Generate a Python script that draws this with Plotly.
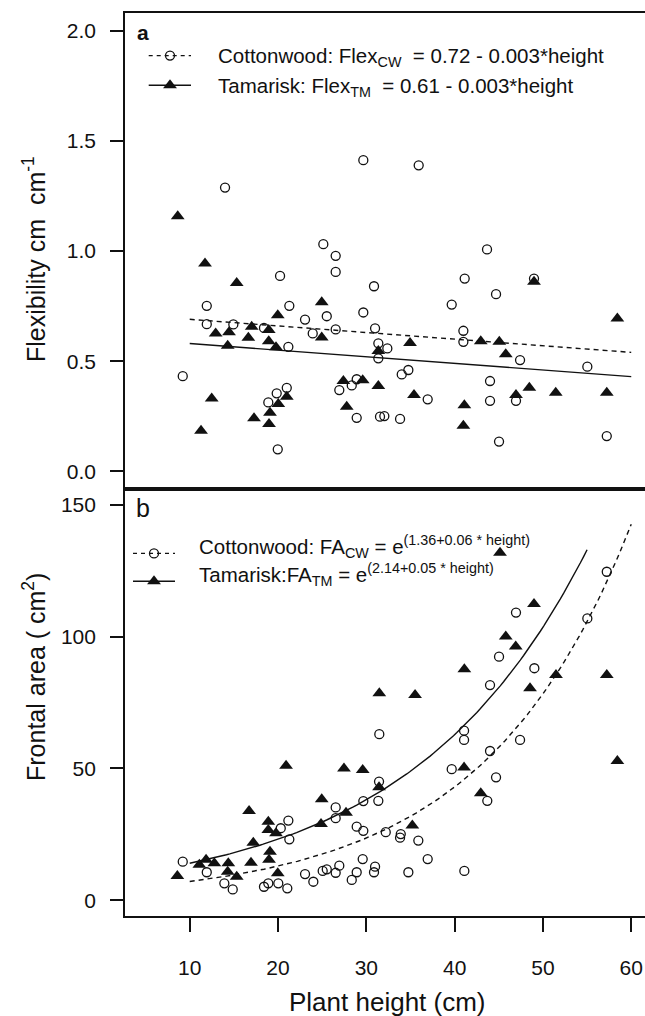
import numpy as np
import plotly.graph_objects as go

# ---------------- data ----------------
# Panel a: stem flexibility vs plant height
cw_flex_height = [29.66, 14.0, 35.93, 25.13, 26.53, 26.53, 20.23, 30.87, 43.67, 41.14,
                  48.99, 44.69, 11.93, 21.28, 25.52, 23.06, 29.66, 11.93, 14.94, 18.41,
                  23.93, 26.53, 30.99, 21.17, 31.36, 31.36, 32.38, 9.21, 26.94, 28.35,
                  28.91, 20.99, 19.85, 18.90, 28.91, 19.97, 31.55, 39.67, 40.99, 40.99,
                  47.41, 55.03, 34.76, 34.01, 44.01, 36.95, 44.01, 46.95, 32.04, 33.82,
                  45.03, 57.23]
cw_flex = [1.412, 1.288, 1.389, 1.031, 0.978, 0.905, 0.887, 0.840, 1.007, 0.875,
           0.875, 0.804, 0.751, 0.751, 0.704, 0.689, 0.721, 0.668, 0.667, 0.651,
           0.626, 0.644, 0.649, 0.565, 0.581, 0.513, 0.558, 0.432, 0.369, 0.390,
           0.418, 0.379, 0.354, 0.313, 0.243, 0.100, 0.248, 0.757, 0.638, 0.588,
           0.505, 0.475, 0.460, 0.440, 0.410, 0.327, 0.320, 0.320, 0.251, 0.238,
           0.135, 0.160]

tm_flex_height = [8.64, 11.73, 15.32, 48.99, 24.95, 19.97, 17.02, 18.95, 12.94, 14.45,
                  24.95, 16.64, 18.95, 14.30, 19.77, 31.36, 12.49, 27.40, 29.59, 31.36,
                  20.99, 20.03, 19.09, 27.78, 17.28, 18.98, 11.28, 58.43, 34.95, 42.96,
                  45.06, 45.79, 35.40, 41.10, 46.95, 48.46, 51.45, 57.23, 40.99]
tm_flex = [1.158, 0.943, 0.855, 0.860, 0.767, 0.709, 0.656, 0.641, 0.626, 0.631,
           0.608, 0.606, 0.591, 0.570, 0.563, 0.546, 0.331, 0.410, 0.414, 0.387,
           0.339, 0.306, 0.266, 0.293, 0.241, 0.215, 0.184, 0.694, 0.583, 0.591,
           0.588, 0.532, 0.346, 0.300, 0.346, 0.379, 0.357, 0.357, 0.207]

# Panel b: frontal area vs plant height
cw_fa_height = [57.23, 55.03, 46.95, 45.03, 49.03, 44.01, 31.47, 41.07, 41.07, 47.41,
                44.01, 39.67, 44.69, 31.44, 43.70, 29.66, 31.36, 29.66, 32.20, 33.90,
                33.82, 35.89, 36.95, 29.59, 30.99, 30.87, 34.76, 41.10, 26.53, 26.53,
                21.17, 20.31, 21.28, 28.91, 9.21, 11.93, 13.92, 14.87, 18.41, 18.90,
                20.03, 21.05, 23.06, 24.00, 25.06, 25.52, 26.53, 26.94, 28.35, 28.91]
cw_fa = [124.6, 106.9, 109.1, 92.4, 88.0, 81.6, 63.0, 64.3, 60.8, 60.8,
         56.6, 49.7, 46.6, 45.0, 37.7, 37.6, 37.7, 26.3, 25.8, 25.1,
         23.7, 22.6, 15.6, 15.6, 12.7, 10.6, 10.6, 11.1, 35.2, 31.1,
         30.2, 27.3, 23.1, 27.9, 14.6, 10.6, 6.4, 4.1, 5.1, 6.4,
         6.4, 4.5, 9.9, 7.0, 11.1, 11.7, 10.4, 13.1, 7.7, 10.6]

tm_fa_height = [45.14, 48.99, 45.79, 46.92, 41.10, 51.48, 57.23, 48.54, 31.47, 35.52,
                58.43, 29.59, 41.07, 31.44, 42.96, 35.21, 20.91, 27.47, 24.95, 27.70,
                16.72, 18.90, 18.90, 19.77, 17.20, 24.87, 19.09, 18.98, 16.94, 11.85,
                11.09, 12.79, 14.37, 14.30, 15.32, 8.60, 19.97]
tm_fa = [131.8, 112.4, 100.0, 96.2, 87.6, 85.4, 85.4, 80.4, 78.5, 77.8,
         52.8, 49.4, 50.3, 42.8, 40.6, 28.3, 51.0, 50.0, 38.3, 33.2,
         33.8, 29.8, 26.6, 25.4, 21.8, 28.9, 18.4, 15.3, 14.2, 15.3,
         13.4, 14.0, 14.0, 10.8, 8.9, 9.2, 10.2]

# Fitted models, coefficients as printed in the legends
flex_cw_coef = (0.72, -0.003)
flex_tm_coef = (0.61, -0.003)
fa_cw_coef = (1.36, 0.06)
fa_tm_coef = (2.14, 0.05)
flex_fit_span = (10, 60)
fa_cw_span = (10, 60)
fa_tm_span = (10, 55)

x_ticks = [10, 20, 30, 40, 50, 60]
flex_ticks = [0.0, 0.5, 1.0, 1.5, 2.0]
fa_ticks = [0, 50, 100, 150]

# ---------------- geometry ----------------
W, H = 645, 1016
ML, MR, MT, MB = 125, 0, 13, 100
PW, PH = W - ML - MR, H - MT - MB
SPLIT = (H - MB - 489) / PH          # panel boundary (fraction of plot height)

FONT = "Liberation Sans, Arial, sans-serif"
INK = "#111111"


def px(xp):
    return (xp - ML) / PW


def py(yp):
    return (H - MB - yp) / PH


fig = go.Figure()

circle_style = dict(symbol="circle-open", size=9, color=INK, line=dict(width=1.3, color=INK))
tri_style = dict(symbol="triangle-up", size=12, color=INK, line=dict(width=0))

# fitted lines / curves
xl = np.linspace(*flex_fit_span, 50)
fig.add_trace(go.Scatter(x=xl, y=flex_cw_coef[0] + flex_cw_coef[1] * xl, mode="lines",
                         line=dict(color=INK, width=1.4, dash="5px,4px"), xaxis="x2", yaxis="y2"))
fig.add_trace(go.Scatter(x=xl, y=flex_tm_coef[0] + flex_tm_coef[1] * xl, mode="lines",
                         line=dict(color=INK, width=1.4), xaxis="x2", yaxis="y2"))

xc = np.linspace(*fa_cw_span, 120)
xt = np.linspace(*fa_tm_span, 120)
fig.add_trace(go.Scatter(x=xc, y=np.exp(fa_cw_coef[0] + fa_cw_coef[1] * xc), mode="lines",
                         line=dict(color=INK, width=1.4, dash="5px,4px"), xaxis="x", yaxis="y"))
fig.add_trace(go.Scatter(x=xt, y=np.exp(fa_tm_coef[0] + fa_tm_coef[1] * xt), mode="lines",
                         line=dict(color=INK, width=1.4), xaxis="x", yaxis="y"))

# points
fig.add_trace(go.Scatter(x=cw_flex_height, y=cw_flex, mode="markers", marker=circle_style,
                         xaxis="x2", yaxis="y2"))
fig.add_trace(go.Scatter(x=tm_flex_height, y=tm_flex, mode="markers", marker=tri_style,
                         xaxis="x2", yaxis="y2"))
fig.add_trace(go.Scatter(x=cw_fa_height, y=cw_fa, mode="markers", marker=circle_style,
                         xaxis="x", yaxis="y"))
fig.add_trace(go.Scatter(x=tm_fa_height, y=tm_fa, mode="markers", marker=tri_style,
                         xaxis="x", yaxis="y"))

# legend keys, drawn on a pixel-space overlay axis
keys = [
    # (x0, x1, y, marker x, dashed, marker)
    (148.7, 191.0, 55.6, 170.0, True, circle_style),
    (148.7, 191.0, 85.2, 170.0, False, tri_style),
    (133.0, 175.0, 553.4, 154.0, True, circle_style),
    (133.0, 175.0, 581.2, 154.0, False, tri_style),
]
for x0, x1, yk, xm, dashed, mk in keys:
    fig.add_trace(go.Scatter(x=[x0, x1], y=[yk, yk], mode="lines",
                             line=dict(color=INK, width=1.4, dash="4px,4px" if dashed else "solid"),
                             xaxis="x3", yaxis="y3"))
    fig.add_trace(go.Scatter(x=[xm], y=[yk], mode="markers", marker=mk, xaxis="x3", yaxis="y3"))

axis_common = dict(showline=True, linewidth=1.7, linecolor=INK, showgrid=False, zeroline=False,
                   tickcolor=INK, tickwidth=1.7, tickfont=dict(family=FONT, size=21, color=INK))

fig.update_layout(
    width=W, height=H,
    margin=dict(l=ML, r=MR, t=MT, b=MB, pad=0),
    paper_bgcolor="white", plot_bgcolor="rgba(0,0,0,0)",
    showlegend=False,
    xaxis=dict(domain=[0, 1], anchor="y", range=[2.67, 61.56], mirror=True, ticks="outside",
               ticklen=14, tickvals=x_ticks, ticklabelstandoff=18, **axis_common),
    yaxis=dict(domain=[0, SPLIT], anchor="x", range=[-6, 156], ticks="outside", ticklen=13,
               tickvals=fa_ticks, ticklabelstandoff=10, **axis_common),
    xaxis2=dict(domain=[0, 1], anchor="y2", matches="x", range=[2.67, 61.56], mirror=True,
                ticks="", showticklabels=False, **axis_common),
    yaxis2=dict(domain=[SPLIT, 1], anchor="x2", range=[-0.08, 2.08], ticks="outside", ticklen=13,
                tickvals=flex_ticks, tickformat=".1f", ticklabelstandoff=10, **axis_common),
    xaxis3=dict(domain=[0, 1], anchor="y3", range=[ML, W - MR], visible=False, fixedrange=True),
    yaxis3=dict(domain=[0, 1], anchor="x3", range=[H - MB, MT], visible=False, fixedrange=True),
)

LEG = 20.5
ann = [
    dict(text="<b>a</b>", x=px(143.4), y=py(33), size=21, xanchor="center"),
    dict(text="b", x=px(143.4), y=py(508), size=25, xanchor="center"),
    dict(text="Cottonwood: Flex<sub>CW</sub>  = 0.72 - 0.003*height", x=px(215.7), y=py(57), size=LEG),
    dict(text="Tamarisk: Flex<sub>TM</sub>  = 0.61 - 0.003*height", x=px(215.7), y=py(87), size=LEG),
    dict(text="Cottonwood: FA<sub>CW</sub> = e<sup>(1.36+0.06 * height)</sup>", x=px(197.3), y=py(546),
         size=LEG),
    dict(text="Tamarisk:FA<sub>TM</sub> = e<sup>(2.14+0.05 * height)</sup>", x=px(197.3), y=py(575),
         size=LEG),
    dict(text="Plant height (cm)", x=px(387.7), y=py(1002), size=26, xanchor="center"),
]
for a in ann:
    fig.add_annotation(text=a["text"], x=a["x"], y=a["y"], xref="paper", yref="paper",
                       xanchor=a.get("xanchor", "left"), yanchor="middle", showarrow=False,
                       font=dict(family=FONT, size=a["size"], color=INK))

fig.add_annotation(text="Flexibility cm  cm<sup>-1</sup>", x=px(34), y=py(259), xref="paper", yref="paper",
                   textangle=-90, showarrow=False, xanchor="center", yanchor="middle",
                   font=dict(family=FONT, size=25, color=INK))
fig.add_annotation(text="Frontal area ( cm<sup>2</sup>)", x=px(34), y=py(677), xref="paper", yref="paper",
                   textangle=-90, showarrow=False, xanchor="center", yanchor="middle",
                   font=dict(family=FONT, size=25, color=INK))

fig.write_html("out.html")
